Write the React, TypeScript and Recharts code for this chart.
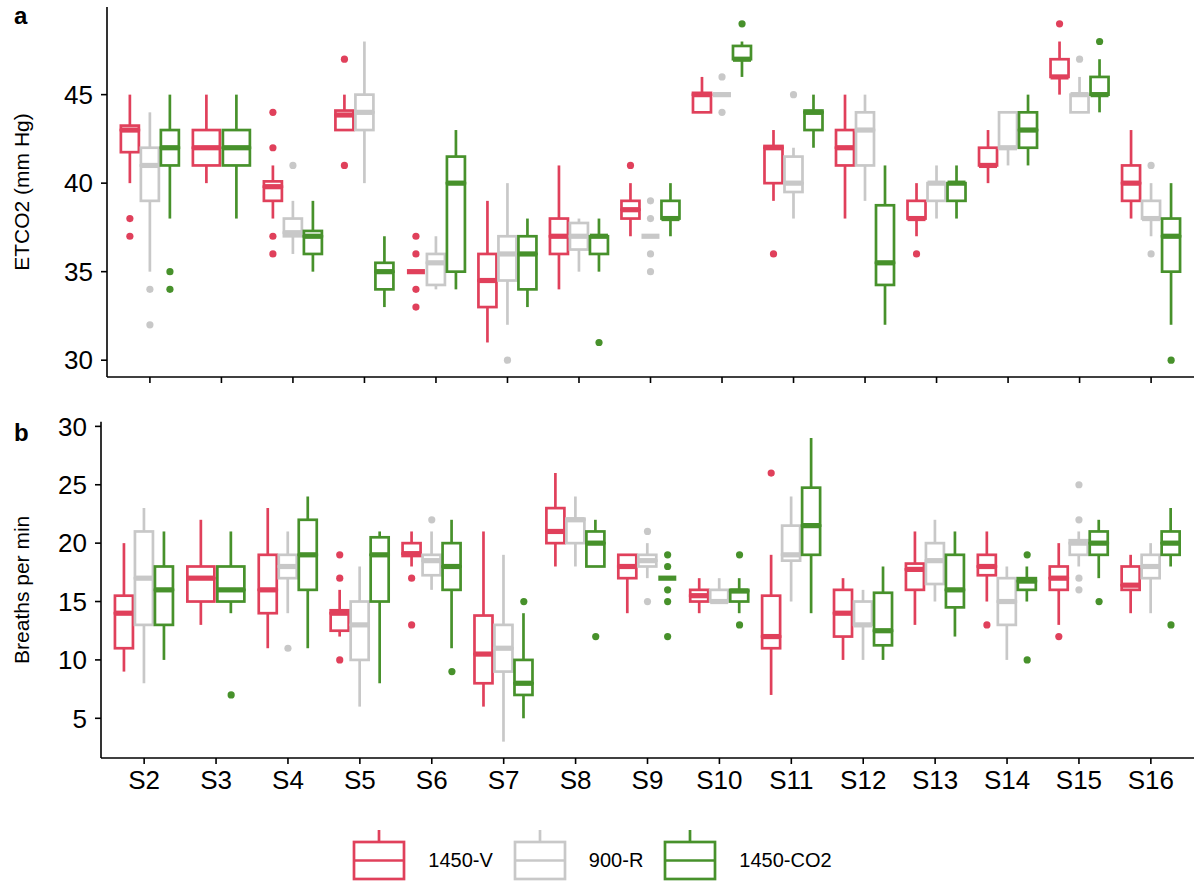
import React from "react";
import { ComposedChart, Bar, Scatter, XAxis, YAxis, Legend } from "recharts";

type Stat = [number, number, number, number, number] | null;

const SUBJECTS = ["S2", "S3", "S4", "S5", "S6", "S7", "S8", "S9", "S10", "S11", "S12", "S13", "S14", "S15", "S16"];
const GROUPS = ["1450-V", "900-R", "1450-CO2"];
const COLORS = ["#e0405b", "#c8c8c8", "#47912b"];

// ETCO2 (mm Hg): [min, q1, median, q3, max] per subject, null = group not recorded
const ETCO2_V: Stat[] = [
  [40, 41.75, 43, 43.25, 45], [40, 41, 42, 43, 45], [38, 39, 39.8, 40.1, 41], [43, 43, 43.85, 44.1, 45],
  [35, 35, 35, 35, 35], [31, 33, 34.5, 36, 39], [34, 36, 37, 38, 41], [37, 38, 38.5, 39, 40],
  [44, 44, 45, 45.1, 46], [39, 40, 42, 42.1, 43], [38, 41, 42, 43, 45], [37, 38, 38, 39, 40],
  [40, 41, 41, 42, 43], [45, 46, 46, 47, 48], [38, 39, 40, 41, 43],
];
const ETCO2_R: Stat[] = [
  [35, 39, 41, 42, 44], null, [36, 37, 37.2, 38, 39], [40, 43, 44, 45, 48],
  [34, 34.25, 35.5, 36, 37], [32, 34.5, 36, 37, 40], [35, 36.25, 37, 37.75, 38], [37, 37, 37, 37, 37],
  [45, 45, 45, 45, 45], [38, 39.5, 40, 41.5, 42], [39, 41, 43, 44, 45], [38, 39, 40, 40, 41],
  [41, 42, 42, 44, 44], [44, 44, 45, 45, 46], [37, 38, 38, 39, 40],
];
const ETCO2_CO2: Stat[] = [
  [38, 41, 42, 43, 45], [38, 41, 42, 43, 45], [35, 36, 37, 37.3, 39], [33, 34, 35, 35.5, 37],
  [34, 35, 40, 41.5, 43], [33, 34, 36, 37, 38], [35, 36, 37, 37, 38], [37, 38, 38, 39, 40],
  [46, 47, 47, 47.75, 48], [42, 43, 44, 44.1, 45], [32, 34.25, 35.5, 38.75, 41], [38, 39, 40, 40, 41],
  [41, 42, 43, 44, 45], [44, 45, 45, 46, 47], [32, 35, 37, 38, 40],
];
const ETCO2_V_OUT = [[38, 37], [], [44, 42, 37, 36], [47, 41], [37, 36, 34, 33], [], [], [41], [], [36], [], [36], [], [49], []];
const ETCO2_R_OUT = [[34, 32], [], [41], [], [], [30], [], [39, 38, 36, 35], [46, 44], [45], [], [], [], [47], [41, 36]];
const ETCO2_CO2_OUT = [[35, 34], [], [], [], [], [], [31], [], [49], [], [], [], [], [48], [30]];

// Breaths per min
const BPM_V: Stat[] = [
  [9, 11, 14, 15.5, 20], [13, 15, 17, 18, 22], [11, 14, 16, 19, 23], [12, 12.5, 14, 14.25, 16],
  [18, 18.9, 19.1, 20, 21], [6, 8, 10.5, 13.8, 21], [18, 20, 21, 23, 26], [14, 17, 18, 19, 19],
  [14, 15, 15.5, 16, 17], [7, 11, 12, 15.5, 19], [10, 12, 14, 16, 17], [13, 16, 17.75, 18.25, 21],
  [15, 17.25, 18, 19, 21], [13, 16, 17, 18, 20], [14, 16, 16.4, 18, 19],
];
const BPM_R: Stat[] = [
  [8, 13, 17, 21, 23], null, [14, 17, 18, 19, 21], [6, 10, 13, 15, 18],
  [16, 17.25, 18.5, 19, 21], [3, 9, 11, 13, 19], [18, 20, 22, 22.1, 24], [17, 18, 18.5, 19, 20],
  [15, 15, 15, 16, 17], [15, 18.5, 19, 21.5, 24], [10, 13, 13, 15, 16], [15, 16.5, 18.5, 20, 22],
  [10, 13, 15, 17, 18], [18, 19, 20, 20.25, 21], [14, 17, 18, 19, 20],
];
const BPM_CO2: Stat[] = [
  [10, 13, 16, 18, 21], [14, 15, 16, 18, 21], [11, 16, 19, 22, 24], [8, 15, 19, 20.5, 21],
  [11, 16, 18, 20, 22], [5, 7, 8, 10, 14], [18, 18, 20, 21, 22], [17, 17, 17, 17, 17],
  [14, 15, 15.9, 16, 17], [14, 19, 21.5, 24.75, 29], [10, 11.25, 12.5, 15.75, 18], [12, 14.5, 16, 19, 21],
  [15, 16, 16.75, 17, 18], [17, 19, 20, 21, 22], [18, 19, 20, 21, 23],
];
const BPM_V_OUT = [[], [], [], [19, 17, 10], [17, 13], [], [], [], [], [26], [], [], [13], [12], []];
const BPM_R_OUT = [[], [], [11], [], [22], [], [], [21, 15], [], [], [], [], [], [25, 22, 17, 16], []];
const BPM_CO2_OUT = [[], [7], [], [], [9], [15], [12], [19, 18, 16, 15, 12], [19, 13], [], [], [], [19, 10], [15], [13]];

const DODGE = 0.84; // share of a category covered by the dodged boxes
const BOX = 0.9; // box width inside its dodge slot
const EXPAND = 0.6; // discrete axis expansion, in categories
const FONT = "'Liberation Sans', Arial, sans-serif";
const AXIS = { stroke: "#000", strokeWidth: 1.6 };
const LINE_W = 2.7;
const MEDIAN_W = 5.2;
const SEGMENTS = 5;

function buildTable(stats: Stat[][]) {
  return SUBJECTS.map((subject, i) => {
    const present = stats.map((s, g) => (s[i] ? g : -1)).filter((g) => g >= 0);
    const row: Record<string, unknown> = { subject, present };
    stats.forEach((s, g) => {
      const v = s[i];
      const [mn, q1, md, q3, mx] = v ?? [0, 0, 0, 0, 0];
      [mn, q1 - mn, md - q1, q3 - md, mx - q3].forEach((d, j) => {
        row[`g${g}_${j}`] = d;
      });
    });
    return row;
  });
}

function buildOutliers(stats: Stat[][], outs: number[][][]) {
  return outs.map((perSubject, g) =>
    perSubject.flatMap((vals, i) => {
      const present = stats.map((s, h) => (s[i] ? h : -1)).filter((h) => h >= 0);
      const n = present.length;
      const k = present.indexOf(g);
      const x = i + 1 - DODGE / 2 + ((k + 0.5) * DODGE) / n;
      return vals.map((y) => ({ x, y }));
    })
  );
}

function segmentShape(g: number, seg: number) {
  return (p: any) => {
    const row = p.payload;
    const k = row.present.indexOf(g);
    if (k < 0 || seg === 0) return <g />;
    const n = row.present.length;
    const slot = p.width;
    const mid = p.x + slot / 2 - (g - 1) * slot;
    const cx = mid + (-1.5 + ((k + 0.5) * 3) / n) * slot;
    const bw = ((3 / n) * slot) * BOX;
    const top = Math.min(p.y, p.y + p.height);
    const bot = Math.max(p.y, p.y + p.height);
    const color = COLORS[g];
    if (seg === 1 || seg === 4) {
      if (bot - top < 0.01) return <g />;
      return <line x1={cx} x2={cx} y1={top} y2={bot} stroke={color} strokeWidth={LINE_W} />;
    }
    return (
      <g>
        {bot - top > 0.01 && (
          <rect x={cx - bw / 2} y={top} width={bw} height={bot - top} fill="#fff" stroke={color} strokeWidth={LINE_W} />
        )}
        {seg === 3 && (
          <line x1={cx - bw / 2} x2={cx + bw / 2} y1={bot} y2={bot} stroke={color} strokeWidth={MEDIAN_W} />
        )}
      </g>
    );
  };
}

function LegendKeys() {
  return (
    <div style={{ display: "flex", justifyContent: "center", height: 56, paddingRight: 10, fontFamily: FONT, fontSize: 20, color: "#000" }}>
      {GROUPS.map((name, g) => (
        <div key={name} style={{ display: "flex", alignItems: "center", marginLeft: g ? 20 : 0 }}>
          <svg width={54} height={56}>
            <line x1={27} x2={27} y1={4} y2={16} stroke={COLORS[g]} strokeWidth={LINE_W} />
            <rect x={2} y={16} width={50} height={37} fill="#fff" stroke={COLORS[g]} strokeWidth={LINE_W} />
            <line x1={2} x2={52} y1={34.5} y2={34.5} stroke={COLORS[g]} strokeWidth={LINE_W} />
          </svg>
          <span style={{ marginLeft: 22, position: "relative", top: 6 }}>{name}</span>
        </div>
      ))}
    </div>
  );
}

function BoxPanel(props: {
  stats: Stat[][];
  outliers: number[][][];
  domain: [number, number];
  ticks: number[];
  title: string;
  height: number;
  yWidth: number;
  top: number;
  xHeight: number;
  labels: boolean;
  legend: boolean;
}) {
  const width = 1194;
  const data = buildTable(props.stats);
  const points = buildOutliers(props.stats, props.outliers);
  const plotW = width - props.yWidth;
  const pad = (plotW * (EXPAND - 0.5)) / (SUBJECTS.length + 2 * EXPAND - 1);
  return (
    <ComposedChart
      width={width}
      height={props.height}
      data={data}
      margin={{ top: props.top, right: 0, bottom: 0, left: 0 }}
      barCategoryGap={`${((1 - DODGE) / 2) * 100}%`}
      barGap={0}
    >
      <XAxis
        xAxisId="cat"
        dataKey="subject"
        padding={{ left: pad, right: pad }}
        height={props.xHeight}
        axisLine={AXIS}
        tickLine={AXIS}
        tickSize={6}
        tickMargin={7}
        interval={0}
        tick={props.labels ? { fontSize: 26, fill: "#000" } : () => <g />}
      />
      <XAxis xAxisId="num" type="number" dataKey="x" domain={[1 - EXPAND, SUBJECTS.length + EXPAND]} hide allowDataOverflow />
      <YAxis
        width={props.yWidth}
        domain={props.domain}
        ticks={props.ticks}
        allowDataOverflow
        axisLine={AXIS}
        tickLine={AXIS}
        tickSize={6}
        tickMargin={8}
        tick={{ fontSize: 26, fill: "#000" }}
        label={{
          value: props.title,
          angle: -90,
          position: "insideLeft",
          offset: 22,
          fontSize: 21,
          fill: "#000",
          style: { textAnchor: "middle", fontSize: 21, fill: "#000" },
        }}
      />
      {GROUPS.flatMap((name, g) =>
        Array.from({ length: SEGMENTS }, (_, j) => (
          <Bar
            key={`${name}-${j}`}
            xAxisId="cat"
            dataKey={`g${g}_${j}`}
            stackId={`g${g}`}
            fill="none"
            isAnimationActive={false}
            legendType="none"
            shape={segmentShape(g, j)}
          />
        ))
      )}
      {GROUPS.map((name, g) => (
        <Scatter
          key={name}
          name={name}
          xAxisId="num"
          data={points[g]}
          dataKey="y"
          isAnimationActive={false}
          shape={(p: any) => <circle cx={p.cx} cy={p.cy} r={3.6} fill={COLORS[g]} />}
        />
      ))}
      {props.legend && <Legend verticalAlign="bottom" content={() => <LegendKeys />} />}
    </ComposedChart>
  );
}

export default function App() {
  const letter: React.CSSProperties = { position: "absolute", left: 14, fontSize: 24, fontWeight: "bold", fontFamily: FONT, lineHeight: "28px" };
  return (
    <div style={{ position: "absolute", left: 0, top: 0, width: 1194, height: 882, background: "#fff", fontFamily: FONT }}>
      <div style={{ position: "absolute", left: 0, top: 0 }}>
        <BoxPanel
          stats={[ETCO2_V, ETCO2_R, ETCO2_CO2]}
          outliers={[ETCO2_V_OUT, ETCO2_R_OUT, ETCO2_CO2_OUT]}
          domain={[29.05, 49.95]}
          ticks={[30, 35, 40, 45]}
          title="ETCO2 (mm Hg)"
          height={390}
          yWidth={107}
          top={7}
          xHeight={13}
          labels={false}
          legend={false}
        />
      </div>
      <div style={{ position: "absolute", left: 0, top: 390 }}>
        <BoxPanel
          stats={[BPM_V, BPM_R, BPM_CO2]}
          outliers={[BPM_V_OUT, BPM_R_OUT, BPM_CO2_OUT]}
          domain={[1.6, 30.4]}
          ticks={[5, 10, 15, 20, 25, 30]}
          title="Breaths per min"
          height={492}
          yWidth={101}
          top={31.7}
          xHeight={68}
          labels
          legend
        />
      </div>
      <div style={{ ...letter, top: 2 }}>a</div>
      <div style={{ ...letter, top: 419 }}>b</div>
    </div>
  );
}
